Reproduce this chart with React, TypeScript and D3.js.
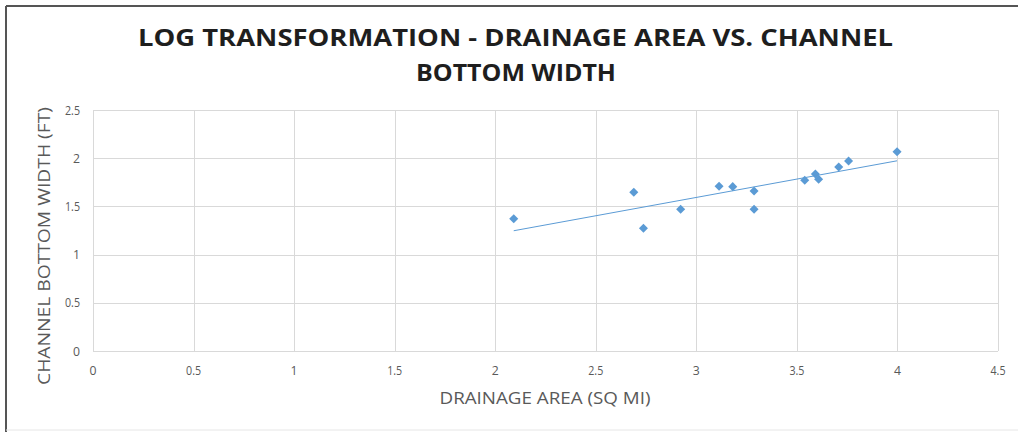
import React from "react";
import * as d3 from "d3";

// Log-transformed drainage area (x) vs. channel bottom width (y)
const logDrainageArea = [2.092, 2.689, 2.737, 2.922, 3.113, 3.181, 3.287, 3.287, 3.539, 3.592, 3.608, 3.708, 3.757, 3.998];
const logBottomWidth = [1.372, 1.646, 1.273, 1.47, 1.708, 1.705, 1.66, 1.47, 1.771, 1.836, 1.781, 1.909, 1.971, 2.067];

const xTicks = [0, 0.5, 1, 1.5, 2, 2.5, 3, 3.5, 4, 4.5];
const yTicks = [0, 0.5, 1, 1.5, 2, 2.5];

const titleLines = ["LOG TRANSFORMATION - DRAINAGE AREA VS. CHANNEL", "BOTTOM WIDTH"];
const xTitle = "DRAINAGE AREA (SQ MI)";
const yTitle = "CHANNEL BOTTOM WIDTH (FT)";

const W = 1018;
const H = 432;
const plot = { left: 93, right: 998, top: 110, bottom: 351 };
const blue = "#5b9bd5";
const grid = "#d9d9d9";
const tickColor = "#595959";
const font = "'Open Sans', 'Liberation Sans', sans-serif";

export default function App() {
  const x = d3.scaleLinear().domain([0, 4.5]).range([plot.left, plot.right]);
  const y = d3.scaleLinear().domain([0, 2.5]).range([plot.bottom, plot.top]);

  const pts = logDrainageArea.map((v, i) => [v, logBottomWidth[i]] as [number, number]);

  // least-squares linear trendline spanning the data's x extent
  const mx = d3.mean(logDrainageArea)!;
  const my = d3.mean(logBottomWidth)!;
  const sxy = d3.sum(pts, ([a, b]) => (a - mx) * (b - my));
  const sxx = d3.sum(pts, ([a]) => (a - mx) ** 2);
  const slope = sxy / sxx;
  const icpt = my - slope * mx;
  const [x0, x1] = d3.extent(logDrainageArea) as [number, number];
  const trend = d3.line<number>().x((v) => x(v)).y((v) => y(slope * v + icpt))([x0, x1]);

  const diamond = d3.symbol().type(d3.symbolDiamond2).size(52)();

  return (
    <svg width={W} height={H} style={{ position: "absolute", left: 0, top: 0, background: "#fff" }}>
      <rect x={0} y={0} width={W} height={H} fill="#fff" />
      {/* chart frame */}
      <line x1={6} y1={6} x2={W} y2={6} stroke="#555" strokeWidth={2} />
      <line x1={6} y1={6} x2={6} y2={H} stroke="#555" strokeWidth={2} />
      <line x1={6} y1={430} x2={W} y2={430} stroke="#e6e6e6" strokeWidth={1} />

      {/* title */}
      <text x={515.5} y={46} textAnchor="middle" fontFamily={font} fontWeight={700} fontSize={23} fill="#1e1e1e"
        textLength={755} lengthAdjust="spacingAndGlyphs">{titleLines[0]}</text>
      <text x={516} y={81} textAnchor="middle" fontFamily={font} fontWeight={700} fontSize={23} fill="#1e1e1e"
        textLength={200} lengthAdjust="spacingAndGlyphs">{titleLines[1]}</text>

      {/* gridlines */}
      {yTicks.map((t) => (
        <line key={"gy" + t} x1={plot.left} x2={plot.right} y1={Math.round(y(t)) + 0.5} y2={Math.round(y(t)) + 0.5} stroke={grid} />
      ))}
      {xTicks.map((t) => (
        <line key={"gx" + t} y1={plot.top} y2={plot.bottom} x1={Math.round(x(t)) + 0.5} x2={Math.round(x(t)) + 0.5} stroke={grid} />
      ))}

      {/* tick labels */}
      {xTicks.map((t) => (
        <text key={"tx" + t} x={x(t)} y={375} textAnchor="middle" fontFamily={font} fontSize={12.5} fill={tickColor}
          textLength={String(t).length > 1 ? 15 : 7} lengthAdjust="spacingAndGlyphs">{t}</text>
      ))}
      {yTicks.map((t) => (
        <text key={"ty" + t} x={80} y={y(t) + 4.5} textAnchor="end" fontFamily={font} fontSize={12.5} fill={tickColor}
          textLength={String(t).length > 1 ? 15 : 7} lengthAdjust="spacingAndGlyphs">{t}</text>
      ))}

      {/* axis titles */}
      <text x={545} y={404} textAnchor="middle" fontFamily={font} fontSize={16} fill={tickColor}
        textLength={211} lengthAdjust="spacingAndGlyphs">{xTitle}</text>
      <text transform={`translate(50, ${246}) rotate(-90)`} textAnchor="middle" fontFamily={font} fontSize={16} fill={tickColor}
        textLength={278} lengthAdjust="spacingAndGlyphs">{yTitle}</text>

      {/* trendline */}
      <path d={trend ?? ""} fill="none" stroke={blue} strokeWidth={1} />

      {/* data points */}
      {pts.map(([a, b], i) => (
        <path key={i} d={diamond ?? ""} transform={`translate(${x(a)},${y(b)})`} fill={blue} />
      ))}
    </svg>
  );
}
